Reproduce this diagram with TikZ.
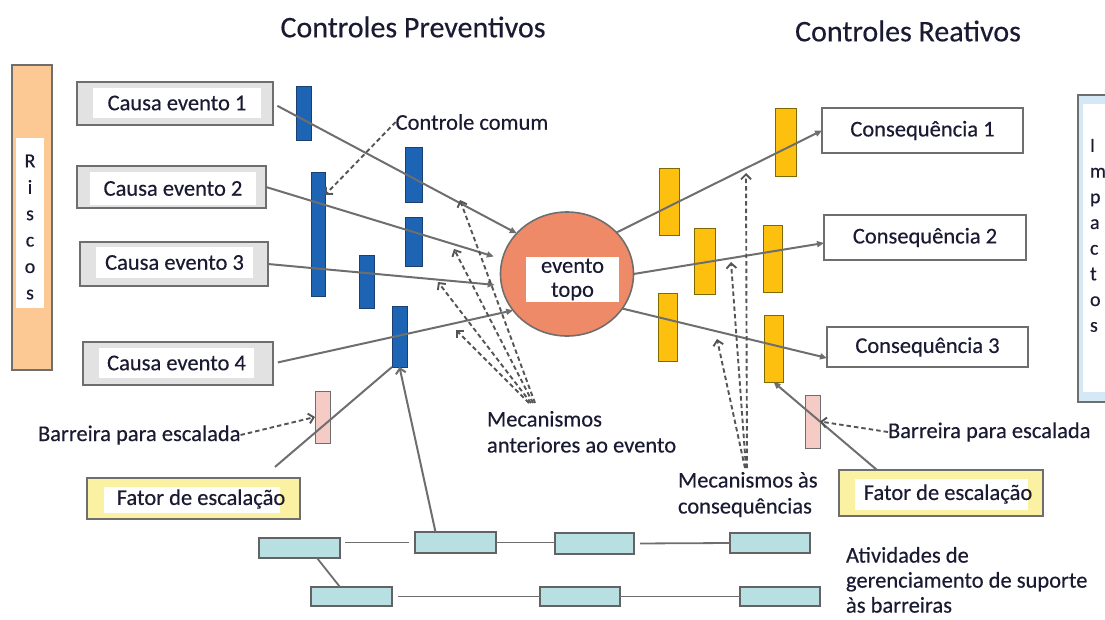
\documentclass[tikz,border=0pt]{standalone}
\usepackage{fontspec}
\setmainfont[FakeBold=0.35]{Carlito}
\usetikzlibrary{arrows.meta,shapes.geometric}
\definecolor{inkc}{HTML}{1A1A33}
\definecolor{linec}{HTML}{6E6E6E}
\definecolor{dashc}{HTML}{555555}
\definecolor{peach}{HTML}{FCC995}
\definecolor{causegray}{HTML}{E2E2E2}
\definecolor{barblue}{HTML}{1E64B4}
\definecolor{barblueline}{HTML}{1A3F73}
\definecolor{eventc}{HTML}{EF8A68}
\definecolor{baryellow}{HTML}{FEC00F}
\definecolor{baryellowline}{HTML}{7F6A00}
\definecolor{pinkbar}{HTML}{F5CBC6}
\definecolor{fatorc}{HTML}{FAF2A2}
\definecolor{supportc}{HTML}{B8DFE2}
\definecolor{impactc}{HTML}{D5E8F5}
\newcommand\txtsize{\fontsize{22.5}{26}\selectfont}
\newcommand\titlesize{\fontsize{30}{34}\selectfont}
\begin{document}
\begin{tikzpicture}[x=1pt,y=-1pt,
  every node/.style={inner sep=0pt, outer sep=0pt, text=inkc, font=\txtsize},
  causebox/.style={draw=linec, fill=causegray, line width=1.8pt},
  whitebox/.style={fill=white},
  bbar/.style={draw=barblueline, fill=barblue, line width=0.8pt},
  ybar/.style={draw=baryellowline, fill=baryellow, line width=0.9pt},
  pbar/.style={draw=linec, fill=pinkbar, line width=1pt},
  fatorbox/.style={draw=linec, fill=fatorc, line width=1.8pt},
  consbox/.style={draw=linec, fill=white, line width=1.6pt},
  supbox/.style={draw=linec!90!black, fill=supportc, line width=1.4pt},
  conn/.style={draw=linec, line width=2pt, -{Triangle[length=7pt,width=6pt]}},
  plain/.style={draw=linec, line width=2pt},
  openconn/.style={draw=linec, line width=2pt, -{Straight Barb[length=5pt,width=10pt]}},
  mech/.style={draw=dashc, line width=1.9pt, dash pattern=on 4.5pt off 3pt,
               -{Straight Barb[length=5pt,width=10pt]}},
  supline/.style={draw=linec, line width=1.8pt}
]
\useasboundingbox (0,0) rectangle (1105,619);

% titles
\node[font=\titlesize] (tprev) at (413,27) {Controles Preventivos};
\node[font=\titlesize] (treat) at (908,31) {Controles Reativos};

% risks column
\node[draw=linec, fill=peach, line width=1.6pt, minimum width=40pt, minimum height=305pt] (risk) at (32,217.5) {};
\node[whitebox, minimum width=28pt, minimum height=170pt] (riskw) at (30,223) {};
\node[align=center, font=\fontsize{20}{26.4}\selectfont] (riskt) at (30,227) {R\\i\\s\\c\\o\\s};

% impacts column
\node[draw=linec, fill=impactc, line width=1.8pt, minimum width=40pt, minimum height=307pt] (imp) at (1098,248.5) {};
\node[whitebox, minimum width=30pt, minimum height=288pt] (impw) at (1098,248) {};
\node[align=left, anchor=north west, font=\fontsize{20}{25.7}\selectfont] (impt) at (1090,139) {I\\m\\p\\a\\c\\t\\o\\s};

% causes
\node[causebox, minimum width=196pt, minimum height=43pt] (c1) at (175,103.5) {};
\node[whitebox, minimum width=168pt, minimum height=30pt] (c1t) at (177,103) {Causa evento 1};
\node[causebox, minimum width=189pt, minimum height=42pt] (c2) at (171.5,187) {};
\node[whitebox, minimum width=166pt, minimum height=33pt] (c2t) at (173,188.5) {Causa evento 2};
\node[causebox, minimum width=188pt, minimum height=44pt] (c3) at (174,264) {};
\node[whitebox, minimum width=157pt, minimum height=31pt] (c3t) at (174.5,262.5) {Causa evento 3};
\node[causebox, minimum width=190pt, minimum height=43pt] (c4) at (178,363.5) {};
\node[whitebox, minimum width=155pt, minimum height=30pt] (c4t) at (176.5,363) {Causa evento 4};

% preventive barriers
\node[bbar, minimum width=15pt, minimum height=54pt] (b1) at (303.5,113) {};
\node[bbar, minimum width=14pt, minimum height=124pt] (b2) at (318,234) {};
\node[bbar, minimum width=17pt, minimum height=55pt] (b3) at (413.5,174.5) {};
\node[bbar, minimum width=17pt, minimum height=49pt] (b4) at (413.5,241.5) {};
\node[bbar, minimum width=15pt, minimum height=53pt] (b5) at (366.5,281.5) {};
\node[bbar, minimum width=15pt, minimum height=61pt] (b6) at (399.5,336.5) {};

% reactive barriers
\node[ybar, minimum width=20pt, minimum height=67pt] (y1) at (669,201.5) {};
\node[ybar, minimum width=21pt, minimum height=66pt] (y2) at (704.5,261) {};
\node[ybar, minimum width=19pt, minimum height=68pt] (y3) at (667.5,327) {};
\node[ybar, minimum width=19pt, minimum height=67pt] (y4) at (772.5,258.5) {};
\node[ybar, minimum width=19pt, minimum height=67pt] (y5) at (773.5,348.5) {};
\node[ybar, minimum width=21pt, minimum height=68pt] (y6) at (785.5,142) {};

% top event
\node[ellipse, draw=linec, fill=eventc, line width=1.6pt, minimum width=133pt, minimum height=124pt] (ev) at (567,274) {};
\node[whitebox, minimum width=93pt, minimum height=45pt, align=center, font=\fontsize{22.5}{24}\selectfont] (evt) at (572.5,279.5) {evento\\topo};

% consequences
\node[consbox, minimum width=201pt, minimum height=45pt] (k1) at (922.5,130.5) {Consequência 1};
\node[consbox, minimum width=202pt, minimum height=45pt] (k2) at (925,237.5) {Consequência 2};
\node[consbox, minimum width=201pt, minimum height=40pt] (k3) at (927.5,347) {Consequência 3};

% escalation factors and their barriers
\node[pbar, minimum width=15pt, minimum height=52pt] (p1) at (322.5,417) {};
\node[pbar, minimum width=15pt, minimum height=53pt] (p2) at (812.5,421.5) {};
\node[fatorbox, minimum width=213pt, minimum height=41pt] (f1) at (193.5,498.5) {};
\node[whitebox, minimum width=176pt, minimum height=26pt] (f1w) at (192,500) {};
\node (f1t) at (201,499) {Fator de escalação};
\node[fatorbox, minimum width=204pt, minimum height=46pt] (f2) at (941,493) {};
\node[whitebox, minimum width=173pt, minimum height=31pt] (f2w) at (941.5,494.5) {};
\node (f2t) at (948,494) {Fator de escalação};

% support activities
\node[supbox, minimum width=81pt, minimum height=20pt] (s1) at (299.5,548) {};
\node[supbox, minimum width=81pt, minimum height=21pt] (s2) at (455.5,542.5) {};
\node[supbox, minimum width=79pt, minimum height=21pt] (s3) at (594.5,543.5) {};
\node[supbox, minimum width=80pt, minimum height=20pt] (s4) at (770,543) {};
\node[supbox, minimum width=81pt, minimum height=19pt] (s5) at (351.5,596.5) {};
\node[supbox, minimum width=80pt, minimum height=19pt] (s6) at (580,596.5) {};
\node[supbox, minimum width=80pt, minimum height=19pt] (s7) at (780,596.5) {};

% labels
\node (lcc) at (472,122) {Controle comum};
\node[anchor=west] (lb1) at (38,435) {Barreira para escalada};
\node[anchor=west] (lb2) at (888,432) {Barreira para escalada};
\node[anchor=north west, align=left] (lma) at (487,411) {Mecanismos\\anteriores ao evento};
\node[anchor=north west, align=left] (lmc) at (678,472) {Mecanismos às\\consequências};
\node[anchor=north west, align=left, font=\fontsize{22.5}{25}\selectfont] (lat) at (846,547) {Atividades de\\gerenciamento de suporte\\às barreiras};

% causes towards the top event
\draw[conn, shorten <=5pt] (c1.east) -- (ev.141);
\draw[conn, shorten >=9pt] (c2.east) -- (ev.167);
\draw[conn, shorten >=7pt] (c3.east) -- (ev.190);
\draw[conn, shorten <=5pt] (c4.east) -- (ev.214);

% top event towards consequences
\draw[conn] (ev.40) -- (k1.west);
\draw[conn] (ev.east) -- ([yshift=-5.5pt]k2.west);
\draw[conn] (ev.-32) -- ([yshift=-11pt]k3.west);

% escalation factors
\draw[plain, shorten <=17pt] ([xshift=-38pt]f1.north east) -- (b6.south west);
\draw[conn] ([xshift=-64pt]f2.north) -- (y5.south);
\draw[mech] (lb1.east) -- (p1.west);
\draw[mech] (lb2.west) -- (p2.east);

% common control pointer
\draw[mech] (lcc.west) -- ([yshift=39pt]b2.east);

% mechanisms before the event
\coordinate (ma) at (533,403);
\coordinate (ma1) at (460,200);
\coordinate (ma2) at (454,249);
\coordinate (ma3) at (438,282);
\coordinate (ma4) at (456,330);
\draw[mech] ([xshift=-4pt]ma) -- (ma4);
\draw[mech] ([xshift=-2pt]ma) -- (ma3);
\draw[mech] (ma) -- (ma2);
\draw[mech] ([xshift=2pt]ma) -- (ma1);

% mechanisms for the consequences
\coordinate (mc) at (746,468);
\coordinate (mc1) at (746,173);
\coordinate (mc2) at (731,262);
\coordinate (mc3) at (717,339);
\draw[mech] ([xshift=1pt]mc) -- (mc1);
\draw[mech] (mc) -- (mc2);
\draw[mech] ([xshift=-1pt]mc) -- (mc3);

% support activities network
\draw[openconn] ([xshift=-20pt]s2.north) -- (b6.south);
\draw[supline, shorten <=5pt, shorten >=6pt] (s1.east |- s2.west) -- (s2.west);
\draw[supline] (s2.east) -- (s2.east -| s3.west);
\draw[supline, shorten <=6pt] (s3.east) -- (s4.west);
\draw[supline] ([xshift=17.5pt]s1.south) -- ([xshift=-11.5pt]s5.north);
\draw[supline, shorten <=6pt] (s5.east) -- (s6.west);
\draw[supline] (s6.east) -- (s7.west);
\end{tikzpicture}
\end{document}
